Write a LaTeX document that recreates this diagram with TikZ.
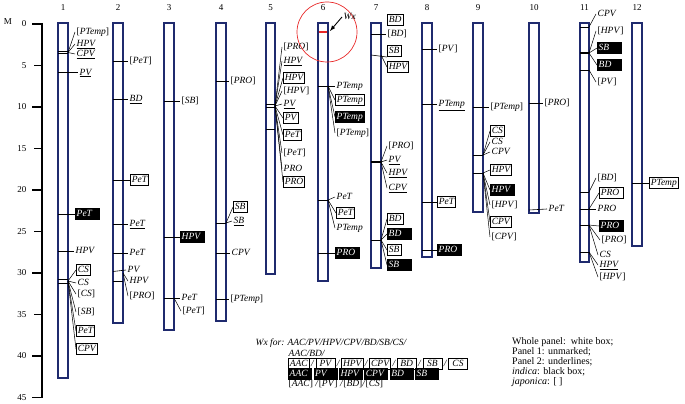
\documentclass[tikz,border=0pt]{standalone}
\usepackage{fontspec}
\setmainfont{Liberation Serif}
\usepackage{xcolor}
\usetikzlibrary{positioning}
\definecolor{chromblue}{RGB}{31,42,110}
\definecolor{wxred}{RGB}{232,40,40}
\newcommand{\jap}[1]{\textup{[}#1\textup{]}}

\begin{document}
\begin{tikzpicture}[x=1pt,y=-1pt,>=latex,
  chrom/.style={draw=chromblue,line width=1.4pt,fill=white},
  tk/.style={line width=0.6pt},
  fan/.style={line width=0.5pt},
  lab/.style={anchor=west,inner xsep=1.5pt,inner ysep=1.5pt,text height=6.5pt,text depth=1.9pt,
    font=\fontsize{9.5}{9.5}\selectfont\itshape},
  wbox/.style={lab,draw,line width=0.6pt},
  bbox/.style={lab,fill=black,text=white,text width=22pt,align=left},
  num/.style={font=\fontsize{9}{9}\selectfont}]

\useasboundingbox (0,0) rectangle (685,404);

% scale in cM
\draw[line width=1.6pt] (42,23) -- (42,398);
\node[num] (unit) at (8,22) {M};
\foreach \v in {0,10,20,30,40,45}
  \draw[line width=1.3pt] (32,24+8.3*\v) -- (42,24+8.3*\v);
\foreach \v in {5,15,25,35}
  \draw[line width=1.3pt] (34,24+8.3*\v) -- (42,24+8.3*\v);
\foreach \v in {0,5,...,45}
  \node[num,anchor=east] (s\v) at (30,24+8.3*\v) {\v};

% chromosome 1
\begin{scope}[xshift=58pt]
    \draw[chrom] (0,23) rectangle (10,378);
    \node[num] (n1) at (5,8) {1};
    \draw[tk] (0,51) -- (10,51) (0,53.5) -- (10,53.5);
    \coordinate (f1a) at (10,52.5);
    \node[lab] (m1a) at (17,32) {\jap{PTemp}};
    \node[lab] (m1b) at (17,44) {\underline{HPV}};
    \node[lab] (m1c) at (17,54) {\underline{CPV}};
    \foreach \m in {a,b,c} \draw[fan] (f1a) -- (m1\m.west);
    \node[lab] (m1d) at (20,72.7) {\underline{PV}};
    \draw[tk] (0,72.7) -- (m1d.west);
    \node[bbox] (m1e) at (17,214) {PeT};
    \draw[tk] (0,214) -- (m1e.west);
    \node[lab] (m1f) at (16,251) {HPV};
    \draw[tk] (0,251) -- (m1f.west);
    \draw[tk] (0,279) -- (10,279) (0,283) -- (10,283);
    \coordinate (f1b) at (10,281);
    \node[wbox] (m1g) at (18,270) {CS};
    \node[lab] (m1h) at (18,283) {CS};
    \node[lab] (m1i) at (18,294) {\jap{CS}};
    \node[lab] (m1j) at (18,312) {\jap{SB}};
    \node[wbox] (m1k) at (18,331) {PeT};
    \node[wbox] (m1l) at (18,349) {CPV};
    \foreach \m in {g,h,i,j,k,l} \draw[fan] (f1b) -- (m1\m.west);
\end{scope}

% chromosome 2
\begin{scope}[xshift=113pt]
    \draw[chrom] (0,23) rectangle (10,323);
    \node[num] (n2) at (5,8) {2};
    \node[lab] (m2a) at (15,61) {\jap{PeT}};
    \node[lab] (m2b) at (15,99) {\underline{BD}};
    \node[wbox] (m2c) at (17,180) {PeT};
    \node[lab] (m2d) at (15,224) {\underline{PeT}};
    \node[lab] (m2e) at (15,253) {PeT};
    \foreach \m/\y in {a/61,b/99,c/180,d/224,e/253} \draw[tk] (0,\y) -- (m2\m.west);
    \node[lab] (m2f) at (13,270) {PV};
    \draw[tk] (0,271.5) -- (m2f.west);
    \draw[tk] (0,281) -- (10,281);
    \coordinate (f2a) at (10,273);
    \node[lab] (m2g) at (15,281) {HPV};
    \node[lab] (m2h) at (15,296) {\jap{PRO}};
    \foreach \m in {g,h} \draw[fan] (f2a) -- (m2\m.west);
\end{scope}

% chromosome 3
\begin{scope}[xshift=164pt]
    \draw[chrom] (0,23) rectangle (10,330);
    \node[num] (n3) at (5,8) {3};
    \node[lab] (m3a) at (16,101) {\jap{SB}};
    \node[bbox] (m3b) at (16,237) {HPV};
    \node[lab] (m3c) at (16,298) {PeT};
    \foreach \m/\y in {a/101,b/237,c/298} \draw[tk] (0,\y) -- (m3\m.west);
    \coordinate (f3a) at (10,298);
    \node[lab] (m3d) at (17,311) {\jap{PeT}};
    \draw[fan] (f3a) -- (m3d.west);
\end{scope}

% chromosome 4
\begin{scope}[xshift=216pt]
    \draw[chrom] (0,23) rectangle (10,321);
    \node[num] (n4) at (5,8) {4};
    \node[lab] (m4a) at (13,81) {\jap{PRO}};
    \draw[tk] (0,81) -- (m4a.west);
    \draw[tk] (0,223) -- (10,223);
    \coordinate (f4a) at (10,223);
    \node[wbox] (m4b) at (17,207) {SB};
    \node[lab] (m4c) at (16,221) {\underline{SB}};
    \foreach \m in {b,c} \draw[fan] (f4a) -- (m4\m.west);
    \node[lab] (m4d) at (14,253) {CPV};
    \node[lab] (m4e) at (13,299) {\jap{PTemp}};
    \foreach \m/\y in {d/253,e/299} \draw[tk] (0,\y) -- (m4\m.west);
\end{scope}

% chromosome 5
\begin{scope}[xshift=266pt]
    \draw[chrom] (0,23) rectangle (9,274);
    \node[num] (n5) at (4.5,8) {5};
    \draw[tk] (0,104) -- (9,104) (0,107) -- (9,107) (0,129) -- (9,129);
    \coordinate (f5a) at (9,106);
    \node[lab] (m5a) at (16,47) {\jap{PRO}};
    \node[lab] (m5b) at (16,61) {\underline{HPV}};
    \node[wbox] (m5c) at (17,78) {HPV};
    \node[lab] (m5d) at (16,91) {\jap{HPV}};
    \node[lab] (m5e) at (16,104) {\underline{PV}};
    \node[wbox] (m5f) at (17,118) {PV\hspace{6pt}};
    \node[wbox] (m5g) at (17,135) {PeT};
    \node[lab] (m5h) at (16,153) {\jap{PeT}};
    \node[lab] (m5i) at (16,169) {PRO};
    \node[wbox] (m5j) at (17,182) {PRO};
    \foreach \m in {a,b,c,d,e,f,g,h,i,j} \draw[fan] (f5a) -- (m5\m.west);
\end{scope}

% chromosome 6 and the Wx locus
\begin{scope}[xshift=318pt]
    \draw[chrom] (0,23) rectangle (10,281);
    \node[num] (n6) at (5,8) {6};
    \draw[wxred,line width=2.6pt] (1,32) -- (9,32);
    \coordinate (wxc) at (9,32);
    \coordinate (wxp) at (12,31);
    \draw[wxred,line width=0.7pt] (wxc) circle (30pt);
    \node[lab] (wx) at (24,17) {Wx};
    \draw[->,line width=0.9pt] (wx.west) -- (wxp);
    \draw[tk] (0,86) -- (10,86);
    \coordinate (f6a) at (10,86);
    \node[lab] (m6a) at (17,86) {PTemp};
    \node[wbox] (m6b) at (17,100) {PTemp};
    \node[bbox,text width=27pt] (m6c) at (17,117) {PTemp};
    \node[lab] (m6d) at (17,133) {\jap{PTemp}};
    \foreach \m in {a,b,c,d} \draw[fan] (f6a) -- (m6\m.west);
    \draw[tk] (0,200) -- (10,200);
    \coordinate (f6b) at (10,200);
    \node[lab] (m6e) at (17,197) {PeT};
    \node[wbox] (m6f) at (18,213) {PeT};
    \node[lab] (m6g) at (17,228) {PTemp};
    \foreach \m in {e,f,g} \draw[fan] (f6b) -- (m6\m.west);
    \node[bbox] (m6h) at (17,253) {PRO};
    \draw[tk] (0,253) -- (m6h.west);
\end{scope}

% chromosome 7
\begin{scope}[xshift=371pt]
    \draw[chrom] (0,23) rectangle (10,268);
    \node[num] (n7) at (5,8) {7};
    \node[wbox] (m7a) at (16,20) {BD};
    \node[lab] (m7b) at (15,34) {\jap{BD}};
    \draw[tk] (0,34) -- (m7b.west);
    \node[wbox] (m7c) at (16,51) {SB};
    \node[wbox] (m7d) at (16,67) {HPV};
    \draw[tk] (0,55) -- (m7c.south west);
    \coordinate (f7a) at (10,55);
    \draw[fan] (f7a) -- (m7d.west);
    \draw[tk,line width=1.3pt] (0,162) -- (10,162);
    \coordinate (f7b) at (10,162);
    \node[lab] (m7e) at (16,146) {\jap{PRO}};
    \node[lab] (m7f) at (16,160) {\underline{PV}};
    \node[lab] (m7g) at (16,173) {\underline{HPV}};
    \node[lab] (m7h) at (16,188) {\underline{CPV}};
    \foreach \m in {e,f,g,h} \draw[fan] (f7b) -- (m7\m.west);
    \draw[tk] (0,240) -- (10,240);
    \coordinate (f7c) at (10,240);
    \node[wbox] (m7i) at (16,219) {BD};
    \node[bbox] (m7j) at (16,234) {BD};
    \node[wbox] (m7k) at (16,250) {SB};
    \node[bbox] (m7l) at (16,265) {SB};
    \foreach \m in {i,j,k,l} \draw[fan] (f7c) -- (m7\m.west);
\end{scope}

% chromosome 8
\begin{scope}[xshift=422pt]
    \draw[chrom] (0,23) rectangle (10,257);
    \node[num] (n8) at (5,8) {8};
    \node[lab] (m8a) at (15,49) {\jap{PV}};
    \node[lab] (m8b) at (15,104) {\underline{PTemp}};
    \node[wbox] (m8c) at (15,202) {PeT};
    \node[bbox] (m8d) at (15,250) {PRO};
    \foreach \m/\y in {a/49,b/104,c/202,d/250} \draw[tk] (0,\y) -- (m8\m.west);
\end{scope}

% chromosome 9
\begin{scope}[xshift=473pt]
    \draw[chrom] (0,23) rectangle (10,212);
    \node[num] (n9) at (5,8) {9};
    \node[lab] (m9a) at (16,107) {\jap{PTemp}};
    \draw[tk] (0,107) -- (m9a.west);
    \draw[tk] (0,155) -- (10,155);
    \coordinate (f9a) at (10,155);
    \node[wbox] (m9b) at (17,131) {CS};
    \node[lab] (m9c) at (17,142) {CS};
    \node[lab] (m9d) at (17,152) {CPV};
    \foreach \m in {b,c,d} \draw[fan] (f9a) -- (m9\m.west);
    \draw[tk] (0,173) -- (10,173);
    \coordinate (f9b) at (10,173);
    \node[wbox] (m9e) at (17,170) {HPV};
    \node[bbox] (m9f) at (17,190) {HPV};
    \node[lab] (m9g) at (17,205) {\jap{HPV}};
    \node[wbox] (m9h) at (17,222) {CPV};
    \node[lab] (m9i) at (17,237) {\jap{CPV}};
    \foreach \m in {e,f,g,h,i} \draw[fan] (f9b) -- (m9\m.west);
\end{scope}

% chromosome 10
\begin{scope}[xshift=529pt]
    \draw[chrom] (0,23) rectangle (10,213);
    \node[num] (n10) at (5,8) {10};
    \node[lab] (m10a) at (14,103) {\jap{PRO}};
    \node[lab] (m10b) at (18,209) {PeT};
    \foreach \m/\y in {a/103,b/210} \draw[tk] (0,\y) -- (m10\m.west);
\end{scope}

% chromosome 11
\begin{scope}[xshift=580pt]
    \draw[chrom] (0,23) rectangle (9,262);
    \node[num] (n11) at (4.5,8) {11};
    \foreach \y in {27,70,192,209,225,252} \draw[tk] (0,\y) -- (9,\y);
    \draw[tk,line width=1.3pt] (0,53) -- (9,53);
    \coordinate (f11a) at (9,27);
    \coordinate (f11b) at (9,53);
    \coordinate (f11c) at (9,70);
    \coordinate (f11d) at (9,192);
    \coordinate (f11e) at (9,209);
    \coordinate (f11f) at (9,225);
    \coordinate (f11g) at (9,252);
    \node[lab] (m11a) at (16,14) {CPV};
    \node[lab] (m11b) at (16,31) {\jap{HPV}};
    \node[bbox] (m11c) at (17,48) {SB};
    \node[bbox] (m11d) at (17,65) {BD};
    \node[lab] (m11e) at (16,82) {\jap{PV}};
    \draw[fan] (f11a) -- (m11a.west);
    \foreach \m in {b,c,d} \draw[fan] (f11b) -- (m11\m.west);
    \draw[fan] (f11c) -- (m11e.west);
    \node[lab] (m11f) at (16,178) {\jap{BD}};
    \node[wbox,text width=21pt] (m11g) at (19,193) {PRO};
    \node[lab] (m11h) at (16,209) {PRO};
    \node[bbox] (m11i) at (19,226) {PRO};
    \node[lab] (m11j) at (20,240) {\jap{PRO}};
    \node[lab] (m11k) at (18,255) {CS};
    \node[lab] (m11l) at (18,265) {\underline{HPV}};
    \node[lab] (m11m) at (18,277) {\jap{HPV}};
    \draw[fan] (f11d) -- (m11f.west);
    \foreach \m in {g,h} \draw[fan] (f11e) -- (m11\m.west);
    \foreach \m in {i,j,k} \draw[fan] (f11f) -- (m11\m.west);
    \foreach \m in {l,m} \draw[fan] (f11g) -- (m11\m.west);
\end{scope}

% chromosome 12
\begin{scope}[xshift=632pt]
    \draw[chrom] (0,23) rectangle (10,246);
    \node[num] (n12) at (5,8) {12};
    \node[wbox] (m12a) at (17,183) {PTemp};
    \draw[tk] (0,183) -- (m12a.west);
\end{scope}

% key to the Wx alleles
\node[lab] (wxkey) at (254,343) {Wx for: AAC/PV/HPV/CPV/BD/SB/CS/};
\node[lab] (ukey) at (287,354) {\underline{AAC/BD/}};
\node[wbox,minimum width=19pt] (w1) at (288,364) {AAC};
\node[lab,right=0pt of w1] (sl1) {/};
\node[wbox,minimum width=19pt,right=0pt of sl1] (w2) {PV};
\node[lab,right=0pt of w2] (sl2) {/};
\node[wbox,minimum width=19pt,right=0pt of sl2] (w3) {HPV};
\node[lab,right=0pt of w3] (sl3) {/};
\node[wbox,minimum width=19pt,right=0pt of sl3] (w4) {CPV};
\node[lab,right=0pt of w4] (sl4) {/};
\node[wbox,minimum width=19pt,right=0pt of sl4] (w5) {BD};
\node[lab,right=0pt of w5] (sl5) {/};
\node[wbox,minimum width=19pt,right=0pt of sl5] (w6) {SB};
\node[lab,right=0pt of w6] (sl6) {/};
\node[wbox,minimum width=19pt,right=0pt of sl6] (w7) {CS};
\node[bbox,text width=21pt] (b1) at (288,374) {AAC};
\node[bbox,text width=21pt,right=1pt of b1] (b2) {PV};
\node[bbox,text width=21pt,right=1pt of b2] (b3) {HPV};
\node[bbox,text width=21pt,right=1pt of b3] (b4) {CPV};
\node[bbox,text width=21pt,right=1pt of b4] (b5) {BD};
\node[bbox,text width=21pt,right=1pt of b5] (b6) {SB};
\node[lab] (jkey) at (287,384) {\jap{AAC} /\jap{PV} /\jap{BD}/\jap{CS}};

\node[anchor=north west,align=left,inner sep=0pt,font=\fontsize{10}{10}\selectfont] (panelkey) at (512,337)
  {Whole panel:\, white box;\\ Panel 1: unmarked;\\ Panel 2: underlines;\\
   \textit{indica}: black box;\\ \textit{japonica}: [ ]};
\end{tikzpicture}
\end{document}
